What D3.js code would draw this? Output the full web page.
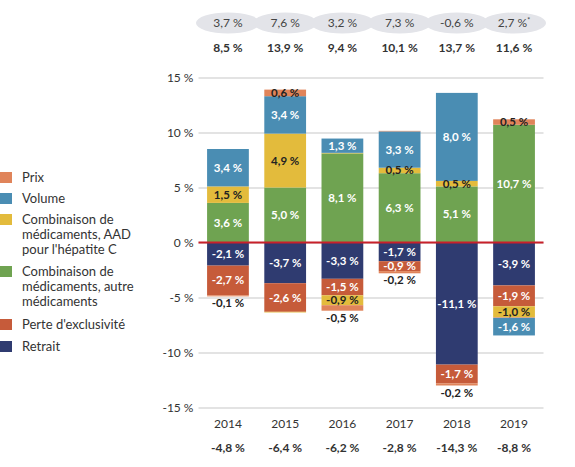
<!DOCTYPE html>
<html>
<head>
<meta charset="utf-8">
<script src="https://cdn.jsdelivr.net/npm/d3@7/dist/d3.min.js"></script>
<style>
  html, body { margin: 0; padding: 0; background: #fff; }
  svg { display: block; font-family: "Lato", "Open Sans", sans-serif; }
</style>
</head>
<body>
<svg id="chart" width="575" height="467"></svg>
<script>
// ---------- data ----------
const years = ["2014", "2015", "2016", "2017", "2018", "2019"];
const topGrowth = ["3,7 %", "7,6 %", "3,2 %", "7,3 %", "-0,6 %", "2,7 %"];
const topGrowthMark = ["", "", "", "", "", "*"];
const positiveTotals = ["8,5 %", "13,9 %", "9,4 %", "10,1 %", "13,7 %", "11,6 %"];
const negativeTotals = ["-4,8 %", "-6,4 %", "-6,2 %", "-2,8 %", "-14,3 %", "-8,8 %"];
const yTicks = [15, 10, 5, 0, -5, -10, -15];

// positive contributions (stacked upward in this order)
const autrePos  = [3.6, 5.0, 8.1, 6.3, 5.1, 10.7];
const aadPos    = [1.5, 4.9, 0.05, 0.5, 0.5, 0];
const volumePos = [3.4, 3.4, 1.3, 3.3, 8.0, 0];
const prixPos   = [0, 0.6, 0, 0.05, 0, 0.5];

// negative contributions (stacked downward in this order)
const retraitNeg = [-2.1, -3.7, -3.3, -1.7, -11.1, -3.9];
const perteNeg   = [-2.7, -2.6, -1.5, -0.9, -1.7, -1.9];
const aadNeg     = [0, -0.06, -0.9, 0, 0, -1.0];
const prixNeg    = [-0.1, 0, -0.5, -0.2, -0.2, -0.05];
const volumeNeg  = [0, 0, 0, 0, 0, -1.6];

const legendLabels = [
  ["Prix"],
  ["Volume"],
  ["Combinaison de", "médicaments, AAD", "pour l'hépatite C"],
  ["Combinaison de", "médicaments, autre", "médicaments"],
  ["Perte d'exclusivité"],
  ["Retrait"]
];

const colors = {
  prix: "#e0845a",
  volume: "#4a8db3",
  aad: "#e3bb3c",
  autre: "#6fa351",
  perte: "#c65b3a",
  retrait: "#2f3b70"
};
const darkText = { prix: true, aad: true };

// ---------- scales ----------
const svg = d3.select("#chart");
const y = d3.scaleLinear().domain([-15, 15]).range([407.5, 77.5]);
const x = d3.scaleBand().domain(years).range([198.5, 543.5]).paddingInner(0.27).paddingOuter(0.15);
const fmt = v => d3.format(".1f")(v).replace(".", ",").replace("−", "-") + " %";

// ---------- top ellipses ----------
const topG = svg.append("g");
years.forEach((yr, i) => {
  const cx = x(yr) + x.bandwidth() / 2;
  topG.append("ellipse").attr("cx", cx).attr("cy", 23).attr("rx", 32).attr("ry", 10.5).attr("fill", "#e3e4e9");
});
years.forEach((yr, i) => {
  const cx = x(yr) + x.bandwidth() / 2;
  const t = topG.append("text").attr("x", cx).attr("y", 27).attr("text-anchor", "middle")
    .attr("font-size", 12).attr("fill", "#444").text(topGrowth[i]);
  if (topGrowthMark[i]) t.append("tspan").attr("dy", -4).attr("font-size", 7).text(topGrowthMark[i]);
  topG.append("text").attr("x", cx).attr("y", 52).attr("text-anchor", "middle")
    .attr("font-size", 12).attr("font-weight", 700).attr("fill", "#333").text(positiveTotals[i]);
});

// ---------- grid & axis ----------
const axis = d3.axisLeft(y).tickValues(yTicks).tickSize(-345).tickFormat(d => d + " %");
const ga = svg.append("g").attr("transform", "translate(198.5,0)").call(axis);
ga.select(".domain").remove();
ga.selectAll(".tick line").attr("stroke", "#dadada").attr("stroke-width", 1.5);
ga.selectAll(".tick text").attr("x", -5).attr("font-size", 12).attr("fill", "#333")
  .attr("font-family", "Lato, sans-serif");

// ---------- stacked bars ----------
const posSeries = [["autre", autrePos], ["aad", aadPos], ["volume", volumePos], ["prix", prixPos]];
const negSeries = [["retrait", retraitNeg], ["perte", perteNeg], ["aad", aadNeg], ["prix", prixNeg], ["volume", volumeNeg]];
const bars = svg.append("g");
const labels = svg.append("g");

years.forEach((yr, i) => {
  const bx = x(yr), bw = x.bandwidth(), cx = bx + bw / 2;
  let base = 0;
  posSeries.forEach(([key, arr]) => {
    const v = arr[i];
    if (!v) return;
    const y0 = y(base), y1 = y(base + v);
    bars.append("rect").attr("x", bx).attr("width", bw).attr("y", y1).attr("height", y0 - y1).attr("fill", colors[key]);
    if (v >= 0.1) {
      labels.append("text").attr("x", cx).attr("y", (y0 + y1) / 2 + 4).attr("text-anchor", "middle")
        .attr("font-size", 11.5).attr("font-weight", 700)
        .attr("fill", darkText[key] ? "#222" : "#fff").text(fmt(v));
    }
    base += v;
  });
  base = 0;
  let bottom = 0;
  negSeries.forEach(([key, arr]) => { bottom += arr[i]; });
  negSeries.forEach(([key, arr]) => {
    const v = arr[i];
    if (!v) return;
    const y0 = y(base), y1 = y(base + v);
    bars.append("rect").attr("x", bx).attr("width", bw).attr("y", y0).attr("height", y1 - y0).attr("fill", colors[key]);
    if (v <= -0.1) {
      const below = key === "prix";
      const ty = below ? y(bottom) + 11 : (y0 + y1) / 2 + 4;
      labels.append("text").attr("x", cx).attr("y", ty).attr("text-anchor", "middle")
        .attr("font-size", 11.5).attr("font-weight", 700)
        .attr("fill", (darkText[key] || below) ? "#222" : "#fff").text(fmt(v));
    }
    base += v;
  });
});

// zero line
svg.append("line").attr("x1", 198.5).attr("x2", 543.5).attr("y1", y(0)).attr("y2", y(0))
  .attr("stroke", "#c8202a").attr("stroke-width", 2);

// ---------- bottom labels ----------
years.forEach((yr, i) => {
  const cx = x(yr) + x.bandwidth() / 2;
  svg.append("text").attr("x", cx).attr("y", 428).attr("text-anchor", "middle")
    .attr("font-size", 12).attr("fill", "#333").text(yr);
  svg.append("text").attr("x", cx).attr("y", 452).attr("text-anchor", "middle")
    .attr("font-size", 12).attr("font-weight", 700).attr("fill", "#333").text(negativeTotals[i]);
});

// ---------- legend ----------
const legendKeys = ["prix", "volume", "aad", "autre", "perte", "retrait"];
const legendTop = [172, 193, 214, 266, 319, 341];
const lg = svg.append("g");
legendKeys.forEach((k, i) => {
  lg.append("rect").attr("x", 0).attr("y", legendTop[i]).attr("width", 12).attr("height", 11).attr("fill", colors[k]);
  legendLabels[i].forEach((line, j) => {
    lg.append("text").attr("x", 22).attr("y", legendTop[i] + 10 + j * 15)
      .attr("font-size", 13).attr("fill", "#333").text(line);
  });
});
</script>
</body>
</html>
